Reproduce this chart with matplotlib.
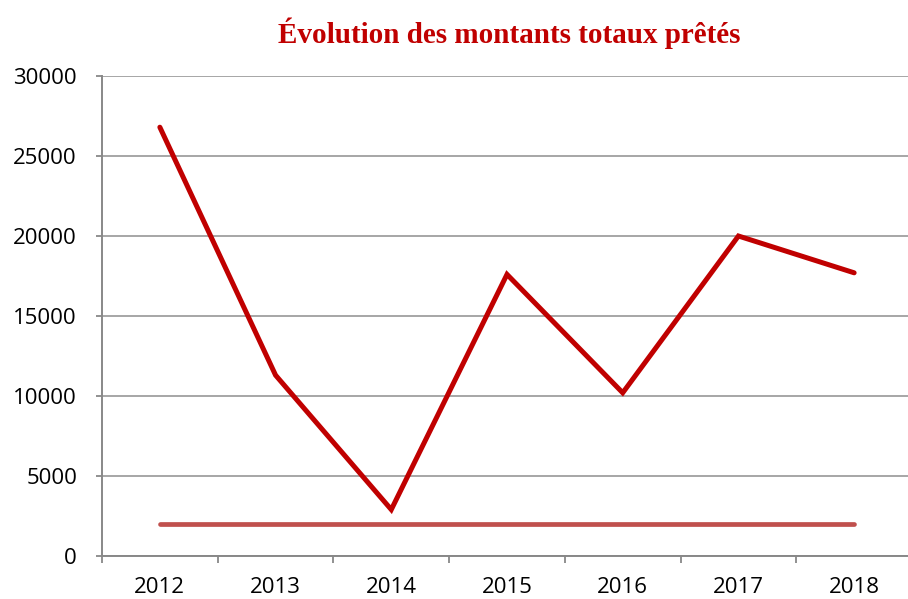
import matplotlib
matplotlib.use("Agg")
import matplotlib.pyplot as plt
import numpy as np

years = ["2012", "2013", "2014", "2015", "2016", "2017", "2018"]
montants = [26800, 11300, 2900, 17600, 10200, 20000, 17700]
seuil = [2000, 2000, 2000, 2000, 2000, 2000, 2000]
yticks = [0, 5000, 10000, 15000, 20000, 25000, 30000]

fig = plt.figure(figsize=(9.08, 5.99), dpi=100)
ax = fig.add_axes([102/908, 1-556/599, 810/908, 480/599])
x = np.arange(len(years))

ax.plot(x, seuil, color="#C0504D", lw=3.4, solid_capstyle="round", zorder=3)
ax.plot(x, montants, color="#C00000", lw=3.6, solid_capstyle="round",
        solid_joinstyle="miter", zorder=4)

ax.set_xlim(-0.5, len(years) - 0.5)
ax.set_ylim(0, 30000)
ax.set_yticks(yticks)
ax.set_yticklabels([str(v) for v in yticks], fontsize=16, family="Open Sans")
ax.set_xticks(x)
ax.set_xticklabels(years, fontsize=16, family="Open Sans")
ax.set_xticks(np.arange(-0.5, len(years)), minor=True)
ax.tick_params(axis="x", which="major", length=0, pad=15)
ax.tick_params(axis="x", which="minor", length=5, color="#888888", width=1.3)
ax.tick_params(axis="y", length=4.5, color="#888888", width=1.3, pad=13.5)
ax.grid(axis="y", color="#a6a6a6", lw=1.4)
ax.set_axisbelow(True)
for s in ("top", "right"):
    ax.spines[s].set_visible(False)
for s in ("left", "bottom"):
    ax.spines[s].set_color("#888888")
    ax.spines[s].set_linewidth(1.4)

fig.text(509/908, 1-43/599, "Évolution des montants totaux prêtés",
         ha="center", va="baseline", color="#C00000", fontsize=21,
         fontweight="bold", family="Liberation Serif")

fig.savefig("out.png", dpi=100, facecolor="white")
